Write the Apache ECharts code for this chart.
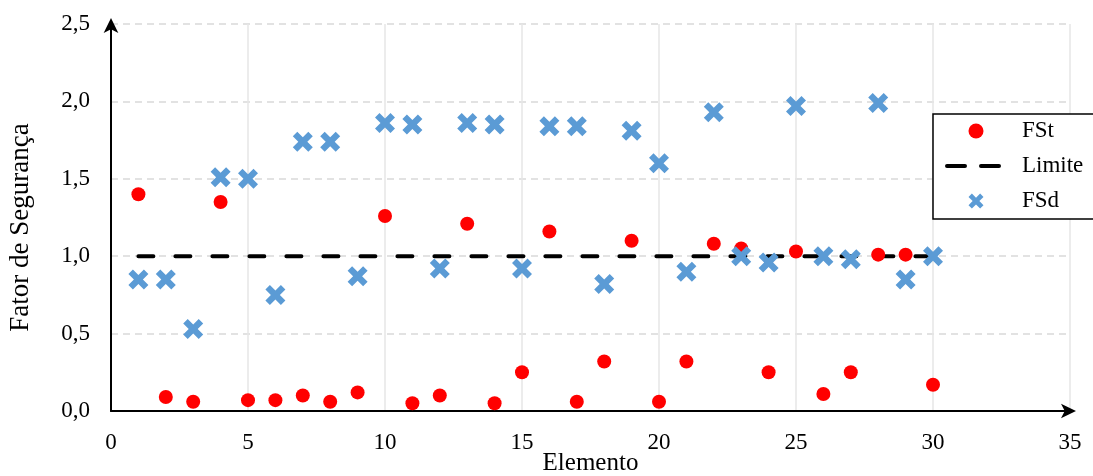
<!DOCTYPE html>
<html>
<head>
<meta charset="utf-8">
<script src="https://cdn.jsdelivr.net/npm/echarts@6/dist/echarts.min.js"></script>
<style>
  html, body { margin: 0; padding: 0; background: #fff; }
  #chart { width: 1093px; height: 476px; }
</style>
</head>
<body>
<div id="chart"></div>
<script>
// Element numbers along the x axis
const elementos = [1,2,3,4,5,6,7,8,9,10,11,12,13,14,15,16,17,18,19,20,21,22,23,24,25,26,27,28,29,30];

// Safety factors per element
const fst = [1.40,0.09,0.06,1.35,0.07,0.07,0.10,0.06,0.12,1.26,0.05,0.10,1.21,0.05,0.25,1.16,0.06,0.32,1.10,0.06,0.32,1.08,1.05,0.25,1.03,0.11,0.25,1.01,1.01,0.17];
const fsd = [0.85,0.85,0.53,1.51,1.50,0.75,1.74,1.74,0.87,1.86,1.85,0.92,1.86,1.85,0.92,1.84,1.84,0.82,1.81,1.60,0.90,1.93,1.00,0.96,1.97,1.00,0.98,1.99,0.85,1.00];
const limite = 1.0;

const seriesNames = ['FSt', 'Limite', 'FSd'];

// Filled "x" cross used as the FSd marker
const crossPath = 'path://M4.5,0 L10,5.5 L15.5,0 L20,4.5 L14.5,10 L20,15.5 L15.5,20 L10,14.5 L4.5,20 L0,15.5 L5.5,10 L0,4.5 Z';

const font = 'Liberation Serif, Times New Roman, serif';

const chart = echarts.init(document.getElementById('chart'), null, { renderer: 'canvas' });

chart.setOption({
  animation: false,
  backgroundColor: '#ffffff',
  textStyle: { fontFamily: font, color: '#000' },
  grid: { left: 111, right: 23, top: 24, bottom: 65, containLabel: false, outerBoundsMode: 'none' },
  legend: {
    orient: 'vertical',
    left: 933,
    top: 114,
    padding: [5, 60, 6, 12],
    borderColor: '#000',
    borderWidth: 1.5,
    backgroundColor: '#fff',
    itemWidth: 58,
    itemHeight: 15,
    itemGap: 11,
    textStyle: { fontFamily: font, fontSize: 23, color: '#000', padding: [0, 0, 0, 12], lineHeight: 24 },
    data: [
      { name: seriesNames[0], icon: 'circle' },
      {
        name: seriesNames[1],
        lineStyle: { color: '#000', type: [18, 16], width: 4, cap: 'round' },
        itemStyle: { color: 'rgba(0,0,0,0)', borderWidth: 0, opacity: 0 }
      },
      { name: seriesNames[2], icon: crossPath }
    ]
  },
  xAxis: {
    type: 'value',
    min: 0,
    max: 35,
    interval: 5,
    name: 'Elemento',
    nameLocation: 'middle',
    nameGap: 40,
    nameMoveOverlap: false,
    nameTextStyle: { fontFamily: font, fontSize: 25, color: '#000' },
    axisLine: { show: true, onZero: true, lineStyle: { color: '#000', width: 2 }, symbol: ['none', 'arrow'], symbolSize: [11, 15], symbolOffset: [0, 6] },
    axisTick: { show: false },
    axisLabel: { fontFamily: font, fontSize: 23, color: '#000', margin: 20 },
    splitLine: { show: true, lineStyle: { color: '#e6e6e6', width: 1.5, type: 'solid' } }
  },
  yAxis: {
    type: 'value',
    min: 0,
    max: 2.5,
    interval: 0.5,
    name: 'Fator de Segurança',
    nameLocation: 'middle',
    nameGap: 77,
    nameMoveOverlap: false,
    nameTextStyle: { fontFamily: font, fontSize: 27, color: '#000', padding: [0, 20, 0, 0] },
    axisLine: { show: true, lineStyle: { color: '#000', width: 2 }, symbol: ['none', 'arrow'], symbolSize: [11, 15], symbolOffset: [0, 6] },
    axisTick: { show: false },
    axisLabel: {
      fontFamily: font, fontSize: 23, color: '#000', margin: 21,
      formatter: v => v.toFixed(1).replace('.', ',')
    },
    splitLine: { show: true, lineStyle: { color: '#d9d9d9', width: 1.5, type: [7, 5] } }
  },
  series: [
    {
      name: seriesNames[0],
      type: 'scatter',
      z: 3,
      symbol: 'circle',
      symbolSize: 14,
      itemStyle: { color: '#ff0000', opacity: 1 },
      data: elementos.map((e, i) => [e, fst[i]])
    },
    {
      name: seriesNames[1],
      type: 'line',
      z: 2,
      symbol: 'none',
      showSymbol: false,
      lineStyle: { color: '#000', width: 4, type: [15, 22], cap: 'round' },
      itemStyle: { color: '#000' },
      data: [[elementos[0], limite], [elementos[elementos.length - 1], limite]]
    },
    {
      name: seriesNames[2],
      type: 'scatter',
      z: 4,
      symbol: crossPath,
      symbolSize: 20,
      symbolKeepAspect: true,
      itemStyle: { color: '#5b9bd5', opacity: 1 },
      data: elementos.map((e, i) => [e, fsd[i]])
    }
  ]
});
</script>
</body>
</html>
